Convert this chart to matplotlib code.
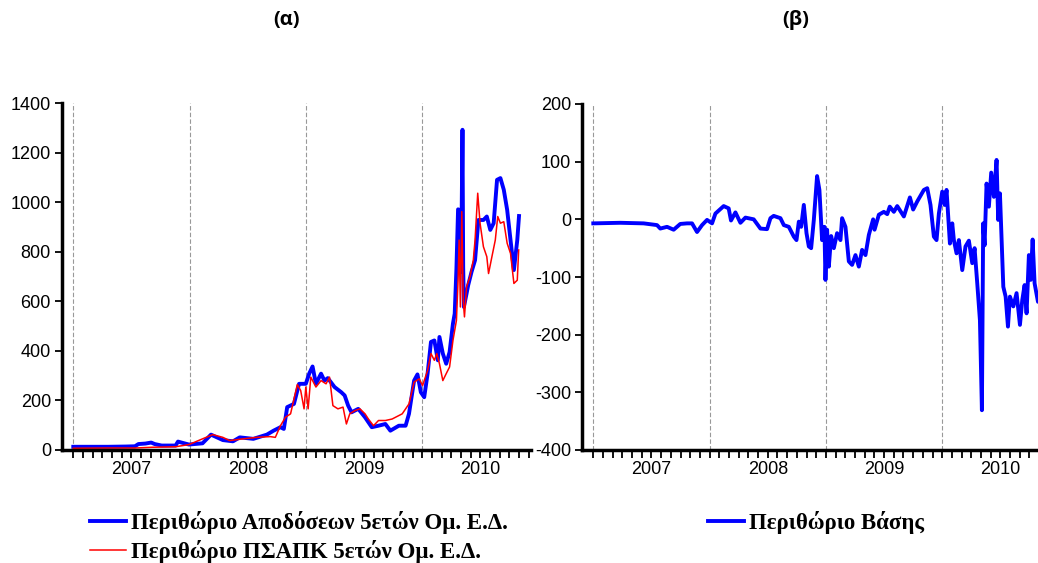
import numpy as np
import matplotlib.pyplot as plt
from matplotlib.ticker import FixedLocator, NullFormatter

# x values are decimal years (2007.0 = start of 2007)
yld_t = [0.0, 0.15, 0.3, 0.45, 0.53, 0.56, 0.62, 0.67, 0.70, 0.76, 0.88, 0.90, 0.93,
         0.995, 1.111, 1.184, 1.286, 1.373, 1.431, 1.548, 1.664, 1.722, 1.781, 1.810,
         1.839, 1.897, 1.941, 1.999, 2.028, 2.057, 2.086, 2.130, 2.159, 2.188, 2.246,
         2.304, 2.333, 2.363, 2.392, 2.450, 2.508, 2.566, 2.624, 2.683, 2.726, 2.799,
         2.857, 2.886, 2.930, 2.959, 2.988, 3.017, 3.046, 3.075, 3.104, 3.134, 3.148,
         3.177, 3.206, 3.235, 3.264, 3.279, 3.294, 3.308, 3.323, 3.334, 3.346, 3.352,
         3.358, 3.381, 3.395, 3.424, 3.454, 3.483, 3.526, 3.555, 3.585, 3.614, 3.643,
         3.672, 3.701, 3.730, 3.759, 3.788, 3.817, 3.832]
yld_v = [13, 13, 13, 14, 15, 24, 26, 30, 24, 18, 18, 34, 30,
         22, 27, 62, 40, 35, 51, 45, 62, 78, 92, 85,
         173, 186, 267, 267, 308, 337, 267, 308, 280, 290, 254,
         233, 220, 179, 152, 166, 132, 92, 98, 105, 78, 98,
         98, 146, 280, 305, 233, 213, 308, 436, 442, 362, 456,
         389, 348, 395, 510, 550, 733, 971, 968, 719, 1292, 739,
         577, 631, 665, 719, 766, 928, 928, 942, 888, 915, 1090,
         1097, 1050, 969, 847, 726, 847, 944]

cds_t = [0.0, 0.297, 0.53, 0.675, 0.879, 0.995, 1.111, 1.199, 1.286, 1.344, 1.461,
         1.577, 1.693, 1.737, 1.781, 1.824, 1.868, 1.926, 1.955, 1.984, 1.999, 2.019,
         2.042, 2.086, 2.130, 2.173, 2.203, 2.232, 2.275, 2.319, 2.348, 2.377, 2.421,
         2.464, 2.508, 2.537, 2.581, 2.624, 2.683, 2.741, 2.828, 2.886, 2.930, 2.974,
         3.003, 3.046, 3.075, 3.104, 3.125, 3.148, 3.177, 3.206, 3.235, 3.264, 3.294,
         3.308, 3.317, 3.328, 3.340, 3.352, 3.363, 3.381, 3.410, 3.439, 3.454, 3.477,
         3.497, 3.526, 3.555, 3.570, 3.599, 3.628, 3.649, 3.672, 3.701, 3.730, 3.759,
         3.788, 3.817, 3.829]
cds_v = [7, 8, 8, 11, 13, 22, 45, 62, 51, 38, 45,
         51, 54, 51, 98, 132, 146, 264, 240, 166, 254, 166,
         294, 254, 280, 267, 294, 179, 166, 173, 105, 146, 159,
         166, 146, 125, 98, 119, 119, 125, 146, 186, 274, 287,
         260, 321, 389, 362, 389, 348, 280, 308, 335, 442, 523,
         685, 847, 577, 962, 604, 537, 658, 699, 766, 847, 1036,
         915, 820, 780, 712, 780, 847, 942, 915, 921, 834, 793,
         672, 685, 807]

basis_t = [0.0, 0.232, 0.433, 0.548, 0.576, 0.634, 0.691, 0.748, 0.806, 0.849, 0.892,
           0.935, 0.978, 1.021, 1.050, 1.121, 1.164, 1.184, 1.222, 1.265, 1.308, 1.379,
           1.437, 1.494, 1.523, 1.551, 1.609, 1.638, 1.681, 1.724, 1.747, 1.767, 1.787,
           1.810, 1.833, 1.853, 1.873, 1.896, 1.924, 1.944, 1.967, 1.987, 1.996, 2.010,
           2.025, 2.045, 2.068, 2.096, 2.125, 2.139, 2.168, 2.197, 2.225, 2.254, 2.283,
           2.311, 2.340, 2.369, 2.406, 2.418, 2.455, 2.498, 2.527, 2.549, 2.584, 2.613,
           2.670, 2.722, 2.750, 2.785, 2.842, 2.871, 2.899, 2.928, 2.951, 2.971, 3.000,
           3.020, 3.037, 3.066, 3.086, 3.100, 3.123, 3.143, 3.172, 3.200, 3.229, 3.258,
           3.278, 3.301, 3.324, 3.341, 3.352, 3.364, 3.381, 3.401, 3.421, 3.444, 3.467,
           3.481, 3.496, 3.525, 3.545, 3.565, 3.582, 3.611, 3.639, 3.668, 3.688, 3.708,
           3.725, 3.745, 3.760, 3.777, 3.794, 3.823, 3.832]
basis_v = [-7, -6, -7, -10, -16, -13, -18, -8, -7, -7, -22,
           -10, -1, -7, 10, 23, 19, -2, 12, -6, 3, 0,
           -16, -17, 2, 6, 2, -10, -13, -30, -36, -4, -13,
           25, -24, -47, -50, -1, 75, 51, -36, -13, -105, -18,
           -82, -29, -50, -24, -36, 2, -13, -73, -79, -62, -82,
           -53, -62, -27, 0, -18, 8, 13, 9, 22, 13, 23,
           5, 38, 17, 31, 51, 54, 25, -30, -36, 10, 48,
           25, 51, -42, -7, -36, -59, -36, -88, -47, -37, -76,
           -50, -111, -175, -331, -7, -45, 62, 22, 81, 39, 103,
           -1, 45, -117, -134, -186, -134, -151, -128, -183, -140, -114,
           -163, -62, -105, -35, -111, -143, -140]

years = [2007, 2008, 2009, 2010]

plt.rcParams['font.family'] = ['Liberation Sans', 'DejaVu Sans']
plt.rcParams['axes.unicode_minus'] = False

fig = plt.figure(figsize=(10.38, 5.63), dpi=100)
ax1 = fig.add_axes([62 / 1038, 113 / 563, 469 / 1038, 347 / 563])
ax2 = fig.add_axes([582 / 1038, 113 / 563, 469 / 1038, 346 / 563])


def style_axis(ax, ylim, yticks):
    ax.set_xlim(2007 - 0.097, 2007 + 3.935)
    ax.set_ylim(*ylim)
    ax.set_yticks(yticks)
    for s in ["top", "right"]:
        ax.spines[s].set_visible(False)
    ax.spines["left"].set_linewidth(2.5)
    ax.spines["bottom"].set_linewidth(2.5)
    # monthly ticks, year labels centred in each year
    months = [y + m / 12 for y in years for m in range(12)]
    ax.xaxis.set_major_locator(FixedLocator(months))
    ax.xaxis.set_major_formatter(NullFormatter())
    ax.tick_params(axis="x", which="major", direction="out", length=6, width=1.3)
    ax.tick_params(axis="y", direction="out", length=5, width=1.3, labelsize=13, pad=3)
    for y in years:
        ax.text(y + 0.5, -20 / 347, str(y), transform=ax.get_xaxis_transform(),
                ha="center", va="center", fontsize=13)
        ax.axvline(y, color="#999999", linestyle=(0, (4, 2)), linewidth=0.8, zorder=0)


ax1.plot([2007 + t for t in yld_t], yld_v, color="#0000ff", linewidth=2.8,
         label="Περιθώριο Αποδόσεων 5ετών Ομ. Ε.Δ.")
ax1.plot([2007 + t for t in cds_t], cds_v, color="#ff0000", linewidth=1.1,
         label="Περιθώριο ΠΣΑΠΚ 5ετών Ομ. Ε.Δ.")
style_axis(ax1, (0, 1400), range(0, 1401, 200))

ax2.plot([2007 + t for t in basis_t], basis_v, color="#0000ff", linewidth=2.8,
         label="Περιθώριο Βάσης")
style_axis(ax2, (-400, 200), range(-400, 201, 100))

leg_font = {"family": "Liberation Serif", "weight": "bold", "size": 16.5}
h1, l1 = ax1.get_legend_handles_labels()
fig.legend(h1, l1, loc="center left", bbox_to_anchor=(90 / 1038, 1 - 537 / 563),
           frameon=False, prop=leg_font, handlelength=1.55, handletextpad=0.25,
           labelspacing=0.25, borderpad=0, borderaxespad=0)
h2, l2 = ax2.get_legend_handles_labels()
fig.legend(h2, l2, loc="center left", bbox_to_anchor=(708 / 1038, 1 - 522.7 / 563),
           frameon=False, prop=leg_font, handlelength=1.55, handletextpad=0.25,
           borderpad=0, borderaxespad=0)

fig.text(286 / 1038, 1 - 20 / 563, "(α)", ha="center", va="center",
         fontsize=14.5, fontweight="bold", family=["Open Sans", "DejaVu Sans"])
fig.text(796 / 1038, 1 - 20 / 563, "(β)", ha="center", va="center",
         fontsize=14.5, fontweight="bold", family=["Open Sans", "DejaVu Sans"])

plt.savefig("out.png", dpi=100)
